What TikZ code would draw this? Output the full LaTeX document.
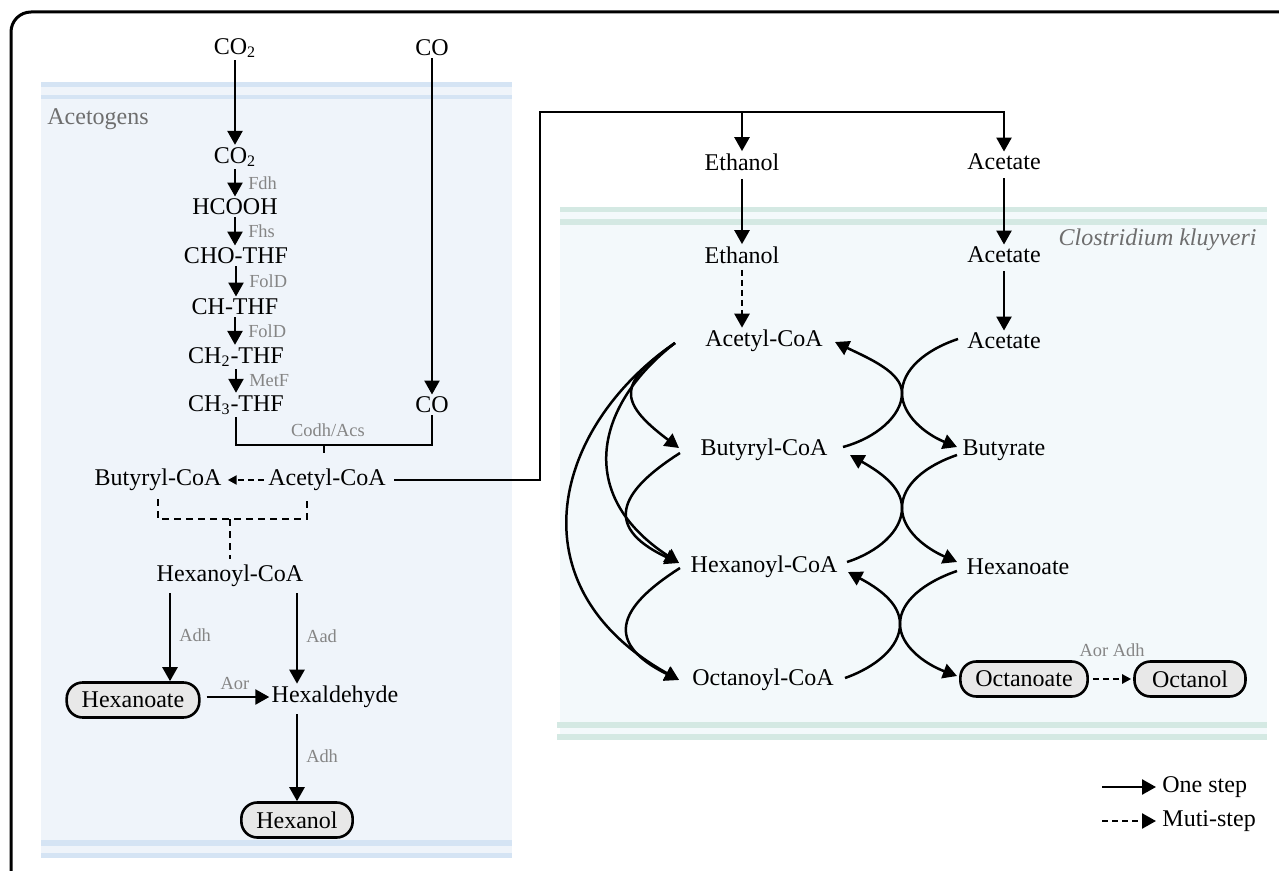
\documentclass[tikz,border=0pt]{standalone}
\usepackage{fontspec}
\setmainfont{Liberation Serif}
\usetikzlibrary{arrows.meta,calc}
\definecolor{lpanel}{HTML}{EFF4FA}
\definecolor{lstripe}{HTML}{D5E4F4}
\definecolor{rpanel}{HTML}{F3F9FB}
\definecolor{rstripe}{HTML}{D4E9E3}
\definecolor{enzgray}{HTML}{858585}
\definecolor{labgray}{HTML}{6E6E6E}
\definecolor{boxfill}{HTML}{E8E8E8}
\tikzset{
  txt/.style={font=\fontsize{12}{14}\selectfont, inner sep=1pt},
  enz/.style={font=\fontsize{9.2}{11}\selectfont, text=enzgray, inner sep=1pt},
  lbl/.style={font=\fontsize{12}{14}\selectfont, text=labgray, inner sep=0pt},
  prod/.style={txt, draw, line width=1.3pt, rounded corners=8pt, fill=boxfill, inner xsep=7.5pt, minimum height=17.5pt},
  ln/.style={line width=1.25pt},
  arr/.style={ln, -{Triangle[length=7pt,width=7.5pt]}},
  sarr/.style={ln, -{Triangle[length=4.5pt,width=4.5pt]}},
  darr/.style={arr, dash pattern=on 3pt off 2pt},
  sdarr/.style={sarr, dash pattern=on 3pt off 2pt},
  dln/.style={ln, dash pattern=on 3.5pt off 2.5pt},
  dbl/.style={ln, {Triangle[length=7pt,width=7.5pt]}-{Triangle[length=7pt,width=7.5pt]}},
}
\begin{document}
\begin{tikzpicture}[x=0.5pt,y=-0.5pt]
\useasboundingbox (0,0) rectangle (1279,871);
\clip (0,0) rectangle (1279,871);
% panels
\fill[lpanel] (41,82) rectangle (512,858);
\fill[lstripe] (41,82) rectangle (512,87);
\fill[lstripe] (41,95) rectangle (512,99);
\fill[lstripe] (41,840) rectangle (512,846);
\fill[lstripe] (41,853) rectangle (512,858);
\fill[rpanel] (560,207) rectangle (1267,740);
\fill[rstripe] (560,207) rectangle (1267,212);
\fill[rstripe] (560,219) rectangle (1267,225);
\fill[rstripe] (557,722) rectangle (1267,728);
\fill[rstripe] (557,734) rectangle (1267,740);
% border
\draw[line width=1.5pt, rounded corners=10pt] (11,12) rectangle (1300,890);

% left nodes
\node[lbl, anchor=west] (acetogens) at (47,119) {Acetogens};
\node[txt] (co2a) at (235,48) {CO\textsubscript{2}};
\node[txt] (coa) at (432,48) {CO};
\node[txt] (co2b) at (235,157) {CO\textsubscript{2}};
\node[txt] (hcooh) at (235,207) {HCOOH};
\node[txt] (cho) at (236,256) {CHO-THF};
\node[txt] (chthf) at (235,307) {CH-THF};
\node[txt] (ch2) at (236,357) {CH\textsubscript{2}-THF};
\node[txt] (ch3) at (236,405) {CH\textsubscript{3}-THF};
\node[txt] (cob) at (432,405) {CO};
\node[enz] (codh) at (328,430) {Codh/Acs};
\node[txt] (lacoa) at (327,480) {Acetyl-CoA};
\node[txt] (lbut) at (158,480) {Butyryl-CoA};
\node[txt] (lhex) at (230,576) {Hexanoyl-CoA};
\node[prod] (hexanoate) at (133,700) {Hexanoate};
\node[txt] (hexald) at (335,697) {Hexaldehyde};
\node[prod] (hexanol) at (297,820) {Hexanol};

% left connectors
\draw[arr] (co2a.south) -- (co2a.south |- co2b.north);
\draw[arr] (coa.south) -- (cob.north);
\draw[arr] (co2b.south) -- (co2b.south |- hcooh.north) node[midway, right=5pt, enz] {Fdh};
\draw[arr] (hcooh.south) -- (hcooh.south |- cho.north) node[midway, right=5pt, enz] {Fhs};
\draw[arr] (cho.south) -- (cho.south |- chthf.north) node[midway, right=5pt, enz] {FolD};
\draw[arr] (chthf.south) -- (chthf.south |- ch2.north) node[midway, right=5pt, enz] {FolD};
\draw[arr] (ch2.south) -- (ch2.south |- ch3.north) node[midway, right=5pt, enz] {MetF};
\coordinate (jb) at (324,445);
\draw[ln] (ch3.south) |- (jb) -| (cob.south);
\draw[ln, shorten >=7pt] (jb) -- (lacoa.north -| jb);
\draw[sdarr, shorten <=1pt, shorten >=2pt] (lacoa.west) -- (lbut.east);
\coordinate (jd) at (230,519);
\coordinate (xd) at (307,0);
\draw[dln, shorten <=3pt] (lbut.south) |- (jd) -| ($(lacoa.south -| xd)+(0,4)$);
\draw[dln, shorten >=2pt] (jd) -- (lhex.north);
\coordinate (xa) at (170,0);
\coordinate (xb) at (297,0);
\draw[arr, shorten <=2pt] (lhex.south -| xa) -- (hexanoate.north -| xa) node[midway, right=3pt, enz] {Adh};
\draw[arr, shorten <=2pt] (lhex.south -| xb) -- (hexald.north -| xb) node[midway, right=3pt, enz] {Aad};
\draw[arr, shorten <=3pt] (hexanoate.east |- hexald.west) -- (hexald.west) node[midway, above=2pt, enz] {Aor};
\draw[arr, shorten <=2pt] (hexald.south -| xb) -- (hexanol.north -| xb) node[midway, right=3pt, enz] {Adh};

% right nodes
\node[txt] (eth0) at (742,162) {Ethanol};
\node[txt] (ace0) at (1004,162) {Acetate};
\node[lbl, anchor=east, font=\fontsize{12}{14}\selectfont\itshape] (ck) at (1257,240) {Clostridium kluyveri};
\node[txt] (eth1) at (742,255) {Ethanol};
\node[txt] (ace1) at (1004,255) {Acetate};
\node[txt] (racoa) at (764,341) {Acetyl-CoA};
\node[txt] (ace2) at (1004,341) {Acetate};
\node[txt] (rbut) at (764,450) {Butyryl-CoA};
\node[txt] (butyrate) at (1004,450) {Butyrate};
\node[txt] (rhex) at (764,567) {Hexanoyl-CoA};
\node[txt] (hexan) at (1018,567) {Hexanoate};
\node[txt] (roct) at (763,680) {Octanoyl-CoA};
\node[prod] (octanoate) at (1024,679) {Octanoate};
\node[prod, minimum width=55.5pt] (octanol) at (1190,679) {Octanol};
\node[enz] (aoradh) at (1112,650) {Aor Adh};

% transfer connector
\coordinate (jt) at (540,112);
\draw[arr, shorten <=3pt] (lacoa.east) -| (jt) -| (ace0.north);
\draw[arr] (eth0.north |- jt) -- (eth0.north);
\draw[arr, shorten <=3pt] (eth0.south) -- (eth1.north);
\draw[arr, shorten <=3pt] (ace0.south) -- (ace1.north);
\draw[darr, shorten <=2pt] (eth1.south) -- (eth1.south |- racoa.north);
\draw[arr, shorten <=3pt] (ace1.south) -- (ace2.north);

% fan curves
\coordinate (fan) at (675,343);
\coordinate (tb) at (679,448);
\coordinate (th) at (679,563);
\coordinate (to) at (679,680);
\coordinate (bl) at (680,453);
\coordinate (hl) at (680,568);
\draw[arr] (fan) .. controls (620,382) and (615,400) .. (tb);
\draw[arr] (fan) .. controls (595,405) and (575,495) .. (th);
\draw[arr] (fan) .. controls (555,425) and (510,585) .. (to);
\draw[arr] (bl) .. controls (625,488) and (598,525) .. (th);
\draw[arr] (hl) .. controls (625,603) and (598,640) .. (to);

% crossing curves
\coordinate (c1a) at (958,339); \coordinate (c1b) at (843,447);
\coordinate (d1a) at (835,342); \coordinate (d1b) at (957,447);
\coordinate (c2a) at (957,455); \coordinate (c2b) at (847,562);
\coordinate (d2a) at (850,455); \coordinate (d2b) at (957,562);
\coordinate (c3a) at (957,571); \coordinate (c3b) at (845,678);
\coordinate (d3a) at (848,572); \coordinate (d3b) at (957,676);
\draw[ln] (c1a) .. controls (925,350) and (902,370) .. (902,393) .. controls (902,416) and (876,438) .. (c1b);
\draw[dbl] (d1a) .. controls (868,358) and (902,372) .. (902,393) .. controls (902,415) and (925,434) .. (d1b);
\draw[ln] (c2a) .. controls (925,466) and (902,485) .. (902,508) .. controls (902,531) and (878,552) .. (c2b);
\draw[dbl] (d2a) .. controls (880,472) and (902,487) .. (902,508) .. controls (902,530) and (925,548) .. (d2b);
\draw[ln] (c3a) .. controls (925,582) and (900,601) .. (900,624) .. controls (900,647) and (876,667) .. (c3b);
\draw[dbl] (d3a) .. controls (878,588) and (900,603) .. (900,624) .. controls (900,646) and (925,664) .. (d3b);

\draw[sdarr, shorten <=2pt, shorten >=1pt] (octanoate.east) -- (octanol.west);

% legend
\node[txt, anchor=west] (one) at (1160,787) {One step};
\node[txt, anchor=west] (muti) at (1160,821) {Muti-step};
\coordinate (lg1) at (1102,787);
\coordinate (lg2) at (1102,821);
\draw[arr, shorten >=2pt] (lg1) -- (one.west);
\draw[darr, shorten >=2pt] (lg2) -- (muti.west);
\end{tikzpicture}
\end{document}
